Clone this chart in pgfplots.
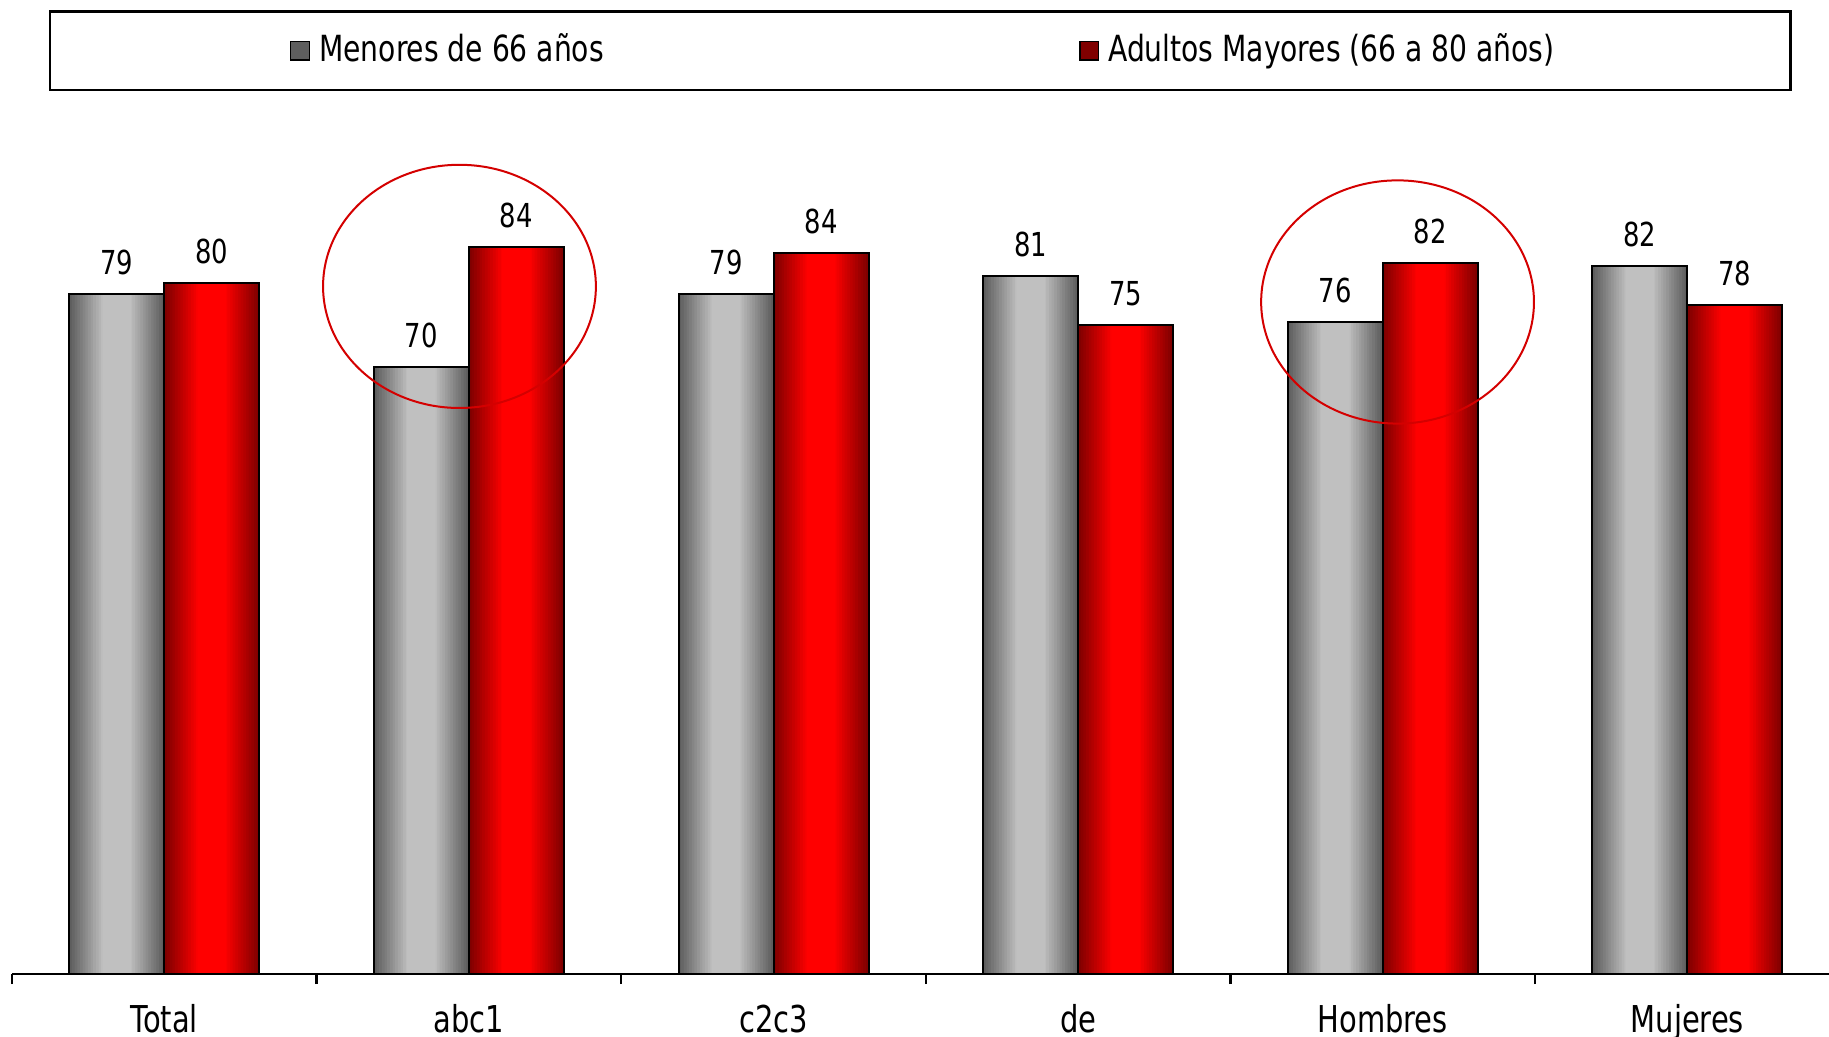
\documentclass[border=0pt]{standalone}
\usepackage{fontspec}
\setmainfont{DejaVu Sans Condensed}[FakeStretch=0.87]
\usepackage{pgfplots}
\usepackage{pgfplotstable}
\pgfplotsset{compat=1.18}
\definecolor{grayD}{HTML}{5E5E5E}
\definecolor{grayL}{HTML}{C0C0C0}
\definecolor{redD}{HTML}{800000}
\definecolor{redL}{HTML}{FF0000}
\definecolor{ellred}{HTML}{D40000}
\pgfplotstableread{
x men menlab may maylab
0 78.5 79 79.8 80
1 70.1 70 83.9 84
2 78.5 79 83.3 84
3 80.6 81 74.9 75
4 75.3 76 82.1 82
5 81.8 82 77.2 78
}\datatab
\begin{document}
\begin{tikzpicture}
\useasboundingbox (-3pt,-15.75pt) rectangle (454.25pt,243.5pt);
\begin{axis}[
  at={(0,0)}, anchor=south west,
  scale only axis, width=454.25pt, height=216.5pt,
  xmin=-0.5, xmax=5.465, ymin=0, ymax=100,
  axis x line=bottom, axis y line=none,
  axis line style={-, line width=0.6pt, black},
  xtick={0,1,2,3,4,5},
  xticklabels={Total,abc1,c2c3,de,Hombres,Mujeres},
  major tick length=0pt,
  minor xtick={-0.5,0.5,1.5,2.5,3.5,4.5,5.5},
  minor tick length=2.5pt,
  xtick align=outside,
  minor tick style={line width=0.6pt, black},
  xticklabel style={anchor=base, yshift=-14.5pt, inner sep=0pt, font=\fontsize{9.25}{11}\selectfont},
  /pgf/number format/assume math mode=true,
  every node near coord/.append style={font=\fontsize{8.25}{10}\selectfont, anchor=south, inner sep=0pt, yshift=4.5pt, black},
  clip=false,
  legend columns=2,
  legend style={at={(0.1525,1.066)}, anchor=west, draw=none, fill=none, inner sep=0pt,
    font=\fontsize{9}{10}\selectfont,
    nodes={inner xsep=0pt},
    /tikz/every odd column/.append style={column sep=2.25pt},
    /tikz/every even column/.append style={column sep=118.75pt}},
]
\pgfplotsinvokeforeach{0,8,16,24,32,40,48,56,64,72,80,88,96,100}{
  \addplot[forget plot, ybar, bar width={23.75pt*(1-0.7*#1/100)}, bar shift=-11.875pt, draw=none, fill=grayL!#1!grayD]
    table[x=x, y=men] {\datatab};
  \addplot[forget plot, ybar, bar width={23.75pt*(1-0.7*#1/100)}, bar shift=11.875pt, draw=none, fill=redL!#1!redD]
    table[x=x, y=may] {\datatab};
}
\addplot[ybar, bar width=23.75pt, bar shift=-11.875pt, draw=black, fill=none, line width=0.5pt,
  point meta=explicit,
  nodes near coords={\pgfmathprintnumber[fixed,precision=0]{\pgfplotspointmeta}},
  every node near coord/.append style={xshift=-11.875pt},
  legend image code/.code={\draw[draw=black, line width=0.4pt, left color=grayD, middle color=grayL, right color=grayD] (0pt,-2.35pt) rectangle (4.7pt,2.35pt);}]
  table[x=x, y=men, meta=menlab] {\datatab};
\addplot[ybar, bar width=23.75pt, bar shift=11.875pt, draw=black, fill=none, line width=0.5pt,
  point meta=explicit,
  nodes near coords={\pgfmathprintnumber[fixed,precision=0]{\pgfplotspointmeta}},
  every node near coord/.append style={xshift=11.875pt},
  legend image code/.code={\draw[draw=black, line width=0.4pt, left color=redD, middle color=redL, right color=redD] (0pt,-2.35pt) rectangle (4.7pt,2.35pt);}]
  table[x=x, y=may, meta=maylab] {\datatab};
\legend{Menores de 66 años, Adultos Mayores (66 a 80 años)}
\draw[black, line width=0.6pt] (rel axis cs:0.02102,1.02102) rectangle (rel axis cs:0.97887,1.11122);
\draw[ellred, line width=0.5pt] (axis cs:0.969,79.4) ellipse [x radius=34.1pt, y radius=30.4pt];
\draw[ellred, line width=0.5pt] (axis cs:4.0486,77.6) ellipse [x radius=34.1pt, y radius=30.4pt];
\end{axis}
\end{tikzpicture}
\end{document}
